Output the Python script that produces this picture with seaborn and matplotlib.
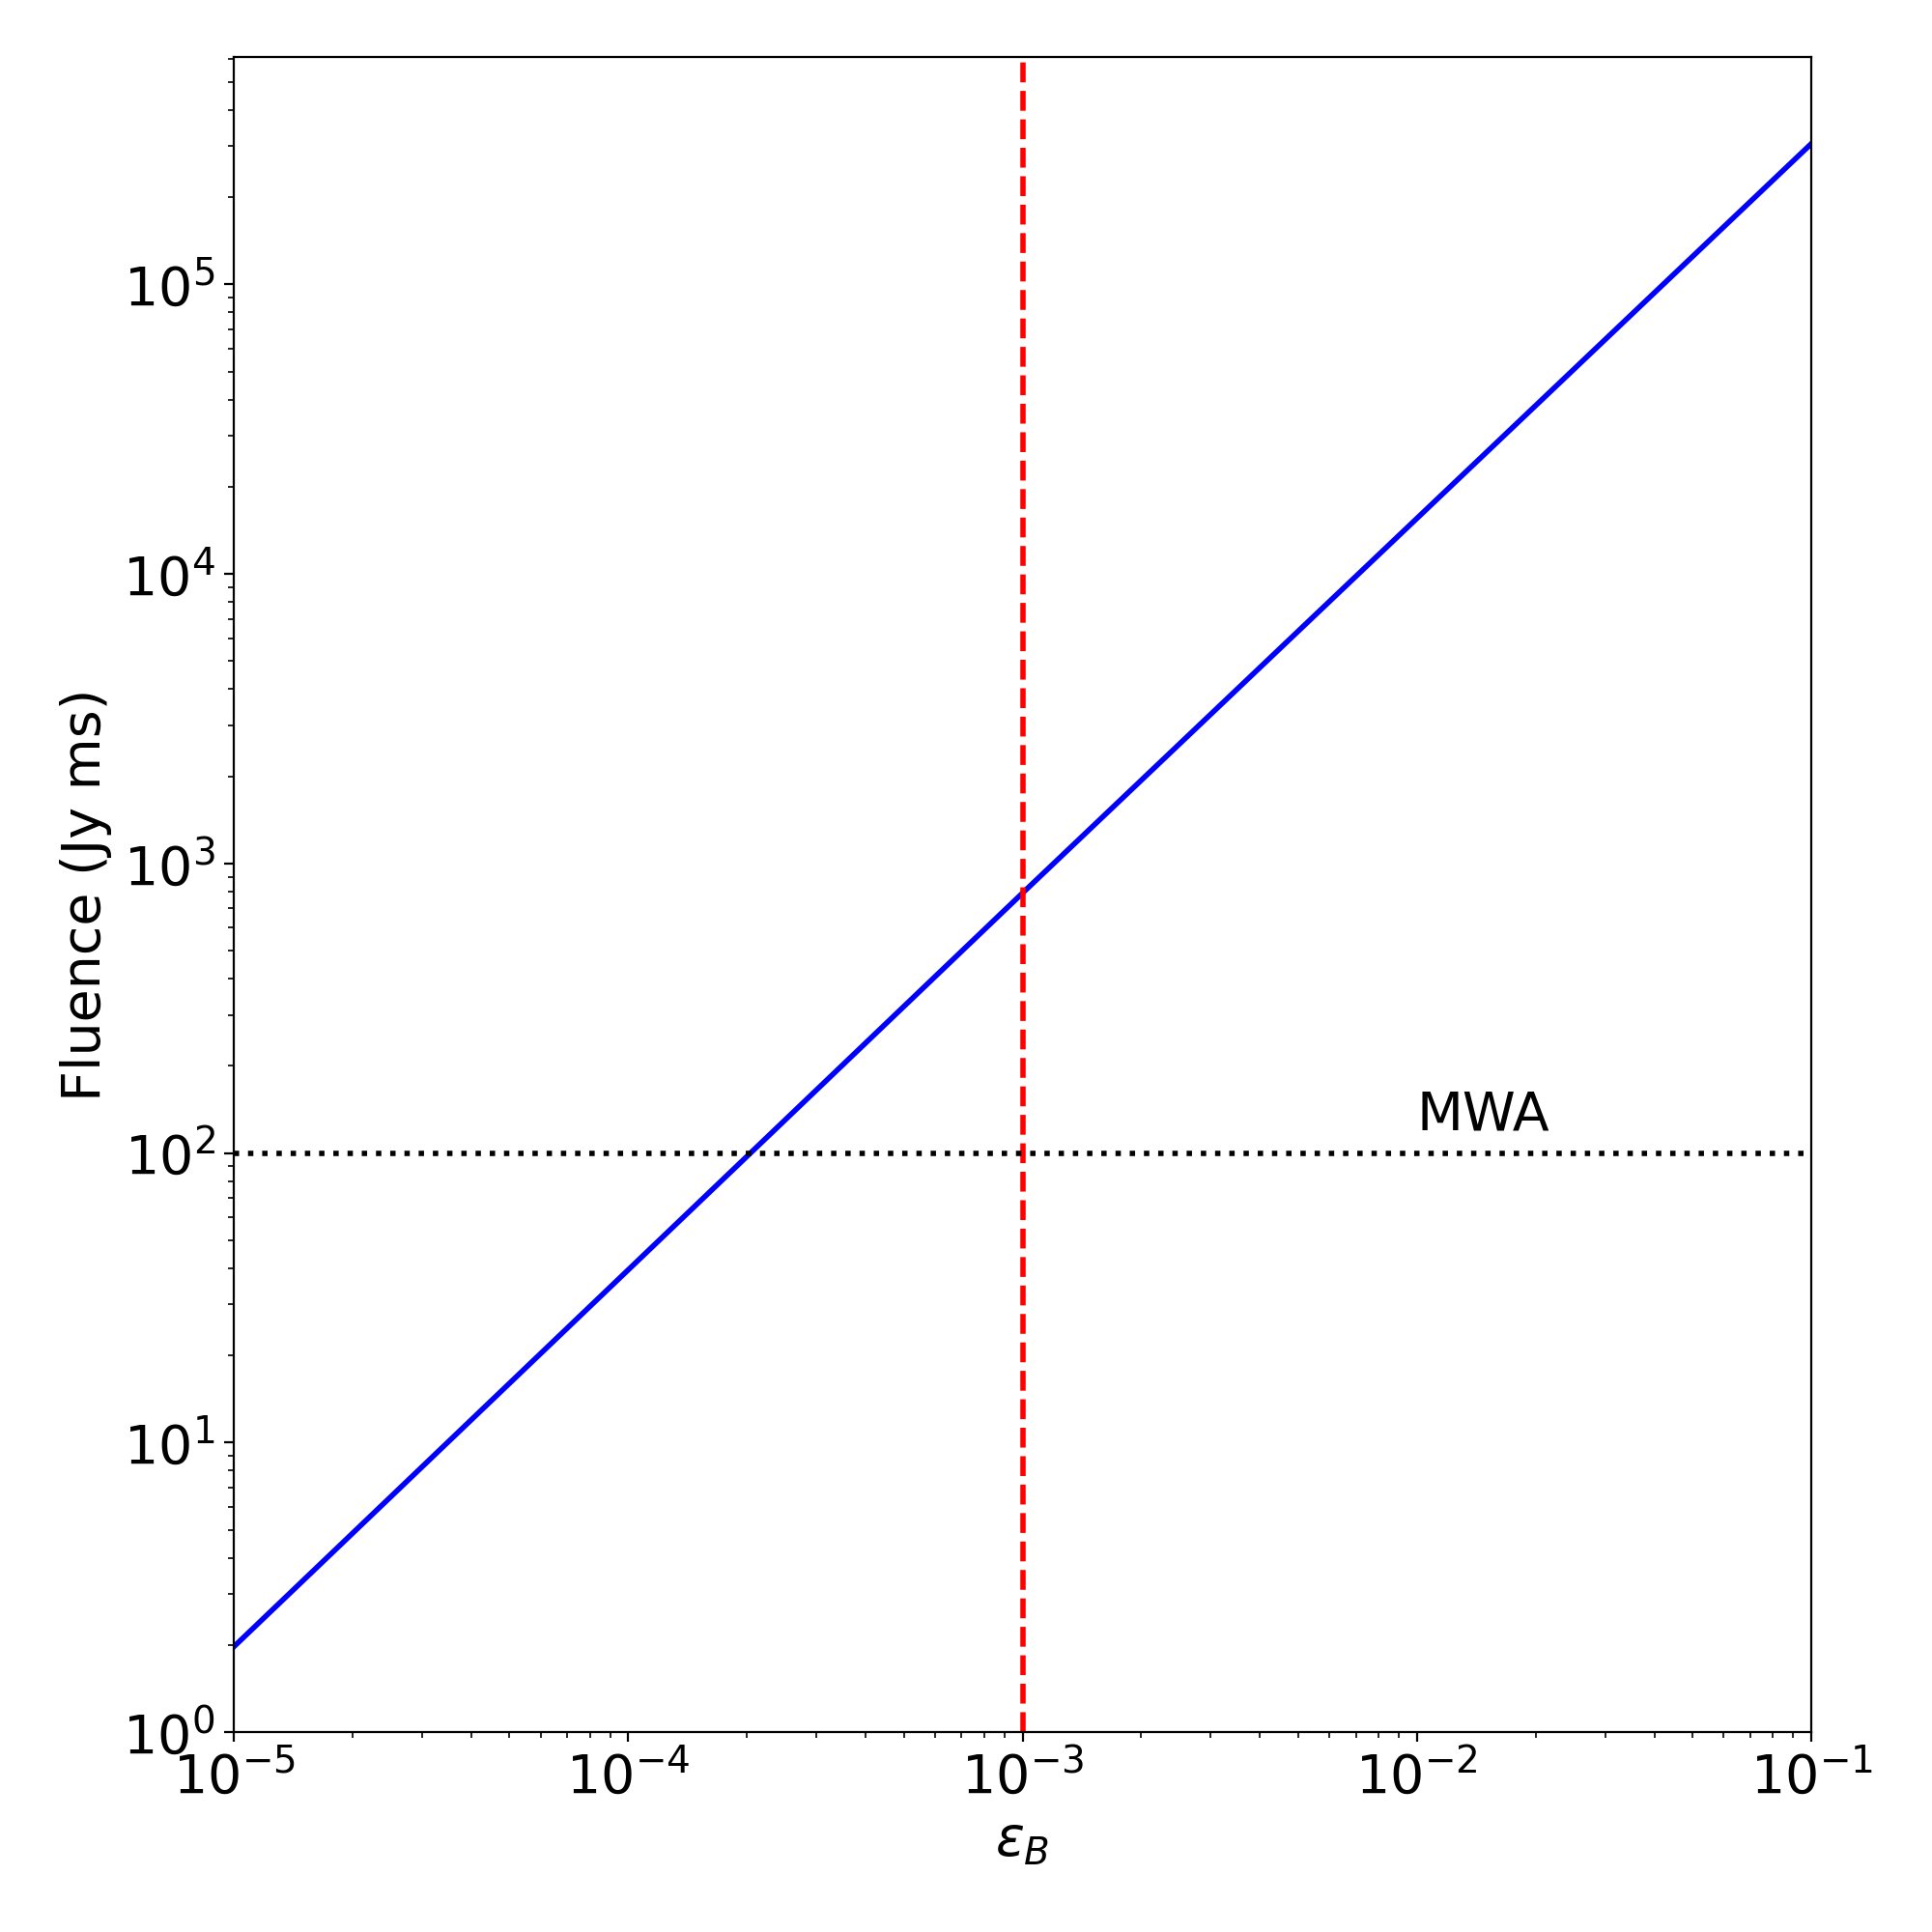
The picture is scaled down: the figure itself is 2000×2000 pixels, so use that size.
import numpy as np
import seaborn as sns
import matplotlib
matplotlib.use("Agg")
import matplotlib.pyplot as plt

# fluence vs epsilon_B (straight line in log-log)
eps_b = [1e-5, 1e-3, 1e-1]
fluence = [1.97, 790.0, 3.06e5]

# reference values
eps_b_ref = 1e-3
mwa_limit = 100.0
mwa_label = "MWA"

plt.rcParams["font.family"] = ["DejaVu Sans"]

fig, ax = plt.subplots(figsize=(10, 10), dpi=200)
fig.subplots_adjust(left=0.121, right=0.9375, top=0.9705, bottom=0.1035)

ax.set_xscale("log")
ax.set_yscale("log")

sns.lineplot(x=eps_b, y=fluence, color="blue", linewidth=2, ax=ax)

ax.axvline(eps_b_ref, color="red", linestyle="--", linewidth=2)
ax.axhline(mwa_limit, color="black", linestyle=":", linewidth=2)
ax.text(1e-2, 120, mwa_label, fontsize=20)

ax.set_xlim(1e-5, 1e-1)
ax.set_ylim(1.0, 6.1e5)

ax.set_xlabel(r"$\epsilon_B$", fontsize=20)
ax.set_ylabel("Fluence (Jy ms)", fontsize=20)
ax.tick_params(axis="both", which="major", labelsize=20)

fig.savefig("out.png", dpi=200)
